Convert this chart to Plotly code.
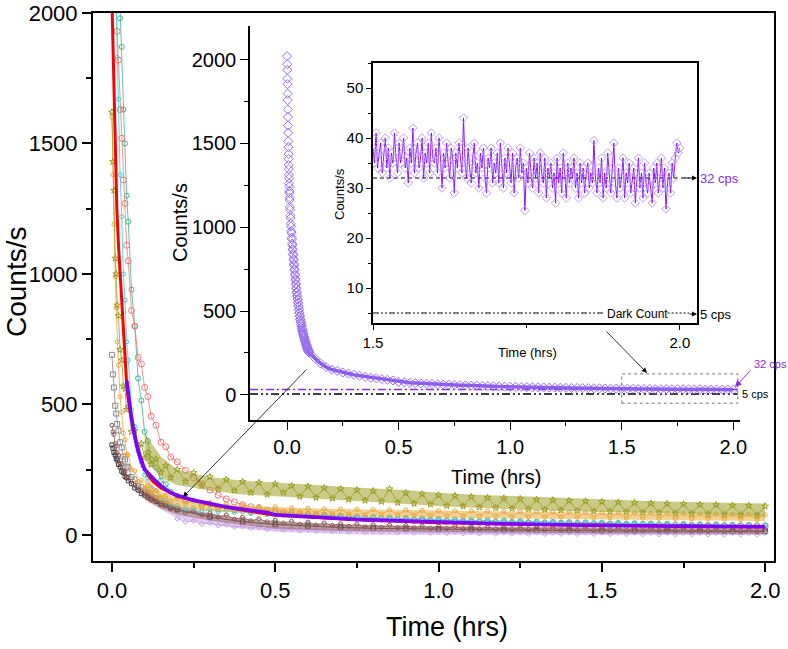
import plotly.graph_objects as go

# ---------------- data ----------------
E_T = [0, 0.003, 0.006, 0.01, 0.013, 0.016, 0.02, 0.025, 0.03, 0.035, 0.04, 0.045, 0.05,
       0.06, 0.07, 0.08, 0.09, 0.1, 0.11, 0.12, 0.135, 0.15, 0.165, 0.18]
L_T = [0.2, 0.225, 0.25, 0.275, 0.3, 0.325, 0.35, 0.375, 0.4, 0.425, 0.45, 0.475, 0.5, 0.525,
       0.55, 0.575, 0.6, 0.625, 0.65, 0.675, 0.7, 0.725, 0.75, 0.775, 0.8, 0.825, 0.85, 0.875,
       0.9, 0.925, 0.95, 0.975, 1.0, 1.025, 1.05, 1.075, 1.1, 1.125, 1.15, 1.175, 1.2, 1.225,
       1.25, 1.275, 1.3, 1.325, 1.35, 1.375, 1.4, 1.425, 1.45, 1.475, 1.5, 1.525, 1.55, 1.575,
       1.6, 1.625, 1.65, 1.675, 1.7, 1.725, 1.75, 1.775, 1.8, 1.825, 1.85, 1.875, 1.9, 1.925,
       1.95, 1.975, 2.0]
LS_T = [0.2, 0.3, 0.4, 0.5, 0.6, 0.7, 0.8, 0.9, 1.0, 1.1, 1.2, 1.3, 1.4, 1.5, 1.6, 1.7, 1.8, 1.9, 2.0]
ENV_T = [0.1, 0.15, 0.2, 0.3, 0.4, 0.5, 0.6, 0.7, 0.8, 0.9, 1.0, 1.1, 1.2, 1.3, 1.4, 1.5, 1.6,
         1.7, 1.8, 1.9, 2.0]
P_EARLY_T = [0, 0.0005, 0.001, 0.0015, 0.002, 0.0025, 0.003, 0.0035, 0.004, 0.0045, 0.005,
             0.0055, 0.006, 0.0065, 0.007, 0.0075, 0.008, 0.0085, 0.009, 0.0095, 0.01, 0.0105,
             0.011, 0.0115, 0.012,
             0.013, 0.014, 0.015, 0.016, 0.017, 0.018, 0.019, 0.02, 0.021, 0.022,
             0.023, 0.024, 0.025, 0.026, 0.027, 0.028, 0.029, 0.03, 0.031, 0.032,
             0.033, 0.034, 0.035, 0.036, 0.037, 0.038, 0.039, 0.04, 0.041, 0.042,
             0.043, 0.044, 0.045, 0.046, 0.047, 0.048, 0.049, 0.05, 0.051, 0.052,
             0.053, 0.054, 0.055, 0.056, 0.057, 0.058, 0.059, 0.06, 0.061, 0.062,
             0.063, 0.064, 0.065, 0.066, 0.067, 0.068, 0.069, 0.07, 0.071, 0.072,
             0.073, 0.074, 0.075, 0.076, 0.077, 0.078, 0.079, 0.08, 0.081, 0.082,
             0.083, 0.084, 0.085, 0.086, 0.087, 0.088, 0.089, 0.09, 0.091, 0.092,
             0.093, 0.094, 0.095, 0.096, 0.097, 0.098, 0.099, 0.1]
P_MID_T = [0.125, 0.15, 0.175]
R_T = [0, 0.005, 0.01, 0.015, 0.02, 0.027, 0.035, 0.045, 0.05, 0.06, 0.07, 0.08, 0.09, 0.1,
       0.11, 0.125, 0.15, 0.2, 0.3, 0.4, 0.5, 0.75, 1.0, 1.25, 1.5, 1.75, 2.0]
I2_T = [1.5, 1.5025, 1.505, 1.5075, 1.51, 1.5125, 1.515, 1.5175, 1.52, 1.5225, 1.525, 1.5275, 1.53, 1.5325, 1.535, 1.5375, 1.54, 1.5425, 1.545, 1.5475,
        1.55, 1.5525, 1.555, 1.5575, 1.56, 1.5625, 1.565, 1.5675, 1.57, 1.5725, 1.575, 1.5775, 1.58, 1.5825, 1.585, 1.5875, 1.59, 1.5925, 1.595, 1.5975,
        1.6, 1.6025, 1.605, 1.6075, 1.61, 1.6125, 1.615, 1.6175, 1.62, 1.6225, 1.625, 1.6275, 1.63, 1.6325, 1.635, 1.6375, 1.64, 1.6425, 1.645, 1.6475,
        1.65, 1.6525, 1.655, 1.6575, 1.66, 1.6625, 1.665, 1.6675, 1.67, 1.6725, 1.675, 1.6775, 1.68, 1.6825, 1.685, 1.6875, 1.69, 1.6925, 1.695, 1.6975,
        1.7, 1.7025, 1.705, 1.7075, 1.71, 1.7125, 1.715, 1.7175, 1.72, 1.7225, 1.725, 1.7275, 1.73, 1.7325, 1.735, 1.7375, 1.74, 1.7425, 1.745, 1.7475,
        1.75, 1.7525, 1.755, 1.7575, 1.76, 1.7625, 1.765, 1.7675, 1.77, 1.7725, 1.775, 1.7775, 1.78, 1.7825, 1.785, 1.7875, 1.79, 1.7925, 1.795, 1.7975,
        1.8, 1.8025, 1.805, 1.8075, 1.81, 1.8125, 1.815, 1.8175, 1.82, 1.8225, 1.825, 1.8275, 1.83, 1.8325, 1.835, 1.8375, 1.84, 1.8425, 1.845, 1.8475,
        1.85, 1.8525, 1.855, 1.8575, 1.86, 1.8625, 1.865, 1.8675, 1.87, 1.8725, 1.875, 1.8775, 1.88, 1.8825, 1.885, 1.8875, 1.89, 1.8925, 1.895, 1.8975,
        1.9, 1.9025, 1.905, 1.9075, 1.91, 1.9125, 1.915, 1.9175, 1.92, 1.9225, 1.925, 1.9275, 1.93, 1.9325, 1.935, 1.9375, 1.94, 1.9425, 1.945, 1.9475,
        1.95, 1.9525, 1.955, 1.9575, 1.96, 1.9625, 1.965, 1.9675, 1.97, 1.9725, 1.975, 1.9775, 1.98, 1.9825, 1.985, 1.9875, 1.99, 1.9925, 1.995, 1.9975,
        2.0]

OLIVE_V = [1620, 1430, 1320, 1060, 1000, 880, 840, 710, 670, 570, 560, 480, 490, 395, 400, 335,
           350, 295, 315, 270, 290, 240, 265, 220,
           250, 205, 238, 188, 222, 176, 212, 170, 204, 162,
           200, 155, 195, 162, 188, 147, 186, 143, 180, 140,
           176, 136, 172, 132, 168, 128, 176, 124, 160, 120,
           156, 117, 152, 112, 150, 110, 146, 106, 143, 104,
           140, 101, 138, 99, 135, 97, 133, 95, 131, 93,
           129, 91, 127, 89, 125, 88, 123, 86, 121, 85,
           119, 83, 118, 82, 116, 80, 115, 79, 113, 77,
           112, 76, 110]
OLIVE_HI = [390, 300, 250, 222, 208, 200, 192, 185, 178, 172, 162, 155, 150, 145, 140, 136, 132,
            128, 125, 122, 120]
OLIVE_LO = [290, 220, 190, 170, 155, 148, 140, 133, 126, 118, 110, 104, 99, 94, 90, 86, 83, 80,
            77, 75, 72]
ORANGE_V = [1600, 1380, 1190, 990, 870, 740, 650, 530, 470, 390, 365, 310, 305, 250, 245, 205,
            210, 180, 188, 165, 170, 145, 150, 128,
            140, 118, 132, 108, 124, 102, 118, 98, 114, 95,
            110, 92, 108, 85, 104, 88, 102, 84, 100, 82,
            99, 80, 98, 78, 97, 79, 96, 77, 95, 76,
            94, 75, 93, 74, 92, 73, 92, 72, 91, 71,
            90, 70, 89, 70, 88, 69, 88, 68, 87, 67,
            86, 66, 85, 66, 84, 65, 84, 64, 83, 63,
            82, 62, 81, 62, 80, 61, 80, 60, 79, 59,
            78, 58, 77]
ORANGE_HI = [215, 165, 140, 122, 112, 106, 102, 99, 97, 95, 93, 91, 89, 87, 86, 84, 82, 80, 79,
             78, 77]
ORANGE_LO = [165, 125, 105, 92, 84, 78, 75, 72, 70, 68, 66, 64, 62, 61, 60, 58, 57, 56, 55, 54, 53]
REDC_V = [2600, 2440, 2320, 2130, 2060, 1930, 1820, 1630, 1520, 1360, 1270, 1110, 1050, 860,
          800, 680, 655, 565, 530, 455, 420, 355, 338, 298,
          280, 248, 218, 196, 172, 152, 138, 126, 116, 108, 101, 95, 90,
          86, 84, 80, 79, 75, 74, 70, 70, 67, 66,
          63, 63, 60, 60, 58, 57, 55, 55, 53, 52,
          51, 50, 49, 48, 47, 47, 46, 45, 44, 44,
          43, 42, 42, 41, 41, 40, 40, 39, 39, 38,
          38, 38, 37, 37, 37, 36, 36, 36, 36, 35,
          35, 35, 35, 34, 34, 34, 34, 34, 33, 33]
TEAL_V = [2900, 2790, 2710, 2540, 2440, 2300, 2170, 1980, 1870, 1630, 1500, 1300, 1200, 940,
          800, 600, 515, 395, 360, 290, 258, 208, 195, 165,
          150, 128, 132, 112, 118, 100, 108, 94, 100, 88,
          92, 82, 88, 78, 84, 75, 80, 72, 77, 70,
          74, 67, 71, 65, 69, 63, 67, 61, 65, 60,
          63, 58, 61, 56, 59, 55, 57, 53, 56, 52,
          54, 50, 53, 49, 51, 48, 50, 47, 49, 46,
          48, 45, 47, 44, 46, 43, 45, 42, 44, 41,
          43, 40, 42, 39, 41, 38, 40, 37, 39, 37,
          38, 36, 37]
CYAN_V = [2700, 2480, 2370, 2130, 2020, 1830, 1670, 1380, 1220, 1000, 900, 740, 670, 480, 415,
          320, 290, 230, 218, 182, 170, 140, 134, 116,
          112, 100, 104, 92, 98, 88, 94, 86, 90, 82,
          86, 78, 82, 76, 80, 73, 77, 71, 75, 69,
          72, 66, 70, 64, 68, 62, 66, 60, 64, 59,
          62, 57, 60, 55, 58, 54, 56, 52, 55, 51,
          53, 49, 52, 48, 50, 47, 49, 46, 48, 45,
          47, 44, 46, 43, 45, 42, 44, 41, 43, 40,
          42, 39, 41, 38, 40, 37, 39, 36, 38, 36,
          37, 35, 36]
BROWN_V = [420, 395, 385, 350, 340, 315, 305, 275, 270, 245, 242, 222, 222, 195, 190, 170, 168,
           150, 150, 133, 132, 114, 113, 100,
           102, 86, 92, 76, 84, 68, 76, 60, 68, 54,
           62, 50, 57, 45, 52, 41, 49, 38, 46, 36,
           43, 33, 41, 31, 39, 29, 37, 28, 36, 27,
           34, 25, 33, 24, 32, 23, 31, 22, 30, 21,
           29, 20, 28, 20, 28, 19, 27, 18, 27, 18,
           26, 17, 26, 17, 25, 16, 25, 16, 24, 15,
           24, 15, 23, 14, 23, 14, 22, 13, 22, 13,
           21, 12, 21]
BROWN_HI = [185, 140, 110, 82, 62, 50, 44, 40, 37, 35, 33, 32, 31, 30, 29, 28, 27, 27, 26, 26, 25]
BROWN_LO = [135, 100, 78, 55, 38, 25, 20, 16, 14, 12, 10, 9, 8, 7, 7, 6, 6, 5, 5, 5, 4]
LAV_V = [62, 50, 54, 42, 46, 36, 40, 30, 34, 26,
         30, 22, 26, 19, 23, 17, 21, 15, 19, 13,
         18, 12, 17, 11, 16, 10, 15, 9, 14, 8,
         13, 8, 12, 7, 12, 6, 11, 6, 11, 5,
         10, 5, 10, 4, 10, 4, 9, 4, 9, 3,
         9, 3, 9, 3, 8, 3, 8, 2, 8, 2,
         8, 2, 8, 2, 7, 2, 7, 1, 7, 1,
         7, 1, 7]
LAV_HI = [135, 100, 82, 60, 44, 31, 26, 22, 20, 18, 16, 15, 14, 13, 13, 12, 12, 11, 11, 11, 10]
LAV_LO = [135, 100, 62, 40, 24, 12, 7, 3, 1, 0, 0, 0, 0, 0, 0, 0, 0, 0, 0, 0, 0]
GREY1_V = [690, 615, 565, 495, 465, 425, 400, 355, 335, 300, 290, 262, 258, 222, 212, 188, 182,
           162, 160, 143, 140, 122, 120, 105,
           98, 70, 52, 42, 35, 30, 26, 24, 22, 20, 19, 18, 17, 16, 16, 15, 15, 14, 14]
GREY2_V = [345, 332, 316, 306, 293, 287, 270, 260, 244, 238, 224, 219, 207, 197, 180, 172, 158,
           152, 145, 137, 128, 120, 112, 105,
           96, 68, 50, 40, 33, 28, 25, 23, 21, 19, 18, 17, 16, 15, 15, 14, 14, 13, 13]
P_V = [2020, 1972, 1938, 1886, 1853, 1797, 1758, 1702, 1657, 1606, 1563, 1512, 1478, 1436, 1408,
       1371, 1347, 1312, 1292, 1261, 1243, 1216, 1203, 1176, 1162,
       1120, 1104, 1070, 1054, 1020, 1004, 976, 964, 938, 928,
       902, 893, 871, 863, 841, 833, 811, 803, 781, 773,
       751, 743, 721, 713, 691, 683, 663, 658, 638, 633,
       613, 608, 591, 588, 571, 568, 551, 548, 531, 528,
       511, 508, 491, 488, 471, 468, 452, 450, 436, 434,
       421, 420, 407, 407, 394, 394, 382, 382, 370, 370,
       358, 358, 347, 347, 337, 337, 327, 327, 318, 318,
       309, 309, 300, 300, 292, 292, 284, 285, 277, 278,
       270, 271, 263, 265, 257, 259, 252, 252,
       218, 188, 166,
       151, 143, 133, 127, 119, 114, 107, 103, 98, 94,
       90, 86, 77, 75, 72, 70, 68, 66, 65, 63,
       62, 60, 59, 58, 57, 55, 55, 53, 52, 51,
       50, 49, 48, 47, 47, 46, 45, 45, 44, 43,
       43, 42, 42, 41, 41, 40, 40, 39, 39, 38,
       37, 37, 36, 36, 36, 35, 35, 35, 34, 34,
       34, 33, 34, 33, 33, 32, 33, 32, 32, 32,
       31, 32, 31]
R_V = [2050, 1750, 1450, 1250, 1110, 960, 790, 580, 520, 440, 375, 325, 285, 255, 230, 205, 180,
       148, 117, 95, 75, 58, 47, 41, 36, 33, 31]
I2_V = [38, 35, 41, 34, 37, 39, 33, 36, 40, 34, 38, 32, 37, 35, 41, 36, 33, 39, 35, 37,
        40, 34, 36, 31, 38, 35, 42, 33, 37, 39, 34, 36, 40, 32, 37, 35, 39, 33, 41, 36,
        35, 38, 33, 40, 36, 30, 37, 34, 39, 35, 32, 38, 36, 29, 37, 34, 39, 36, 33, 44,
        35, 32, 38, 34, 31, 36, 39, 33, 35, 30, 37, 34, 38, 32, 29, 36, 34, 38, 31, 35,
        33, 37, 31, 39, 34, 30, 36, 33, 38, 35, 31, 37, 29, 34, 36, 32, 38, 33, 35, 25.5,
        34, 31, 37, 33, 30, 36, 32, 35, 29, 37, 33, 31, 36, 28, 34, 32, 35, 30, 33, 27,
        36, 31, 34, 29, 37, 33, 28, 35, 31, 34, 32, 36, 30, 33, 28, 35, 31, 34, 29, 33,
        35, 30, 33, 31, 39.5, 32, 29, 34, 31, 36, 28, 33, 30, 37, 32, 29, 34, 39, 31, 28,
        34, 30, 32, 36, 28, 33, 31, 35, 29, 32, 34, 27, 31, 36, 30, 33, 28, 35, 31, 29,
        33, 30, 27, 34, 31, 35, 29, 32, 36, 30, 34, 25.8, 31, 33, 29, 35, 32, 36, 39, 37,
        38]
REF_LEVELS = [32, 5]

# ---------------- figure ----------------
W, H = 788, 649
FONT = "Arial, Liberation Sans, sans-serif"
PURPLE = "#7f00ff"
PTXT = "#8a2be2"


def px(x):
    return x / W


def py(y):
    return 1 - y / H


fig = go.Figure()


def add(xs, ys, color, symbol, size, xa="x", ya="y", lw=0.8, mode="lines+markers"):
    fig.add_trace(go.Scatter(
        x=xs, y=ys, mode=mode, xaxis=xa, yaxis=ya, showlegend=False, hoverinfo="skip",
        marker=dict(symbol=symbol, size=size, color=color, line=dict(width=1, color=color)),
        line=dict(color=color, width=lw)))


def band(hi, lo, rgba):
    fig.add_trace(go.Scatter(
        x=ENV_T + ENV_T[::-1], y=hi + lo[::-1], mode="lines", fill="toself", fillcolor=rgba,
        line=dict(width=0), showlegend=False, hoverinfo="skip"))


T_FULL = E_T + L_T
T_SPARSE = E_T + LS_T
P_T = P_EARLY_T + P_MID_T + L_T
MAIN_P = [(t, v) for t, v in zip(P_T, P_V) if t >= 0.045]
P_LATE = [(t, v) for t, v in zip(P_T, P_V) if t >= 0.09]

add(T_SPARSE, GREY1_V, "#8a8a8a", "square-open", 5)
add(T_SPARSE, GREY2_V, "#3c3c3c", "square-open", 4)
add(T_FULL, TEAL_V, "#3fb58d", "circle-open", 5)
add(T_FULL, REDC_V, "#f07575", "circle-open", 6)
band(LAV_HI, LAV_LO, "rgba(196,154,230,0.5)")
add(L_T, LAV_V, "#c49ae6", "diamond-open", 4)
band(BROWN_HI, BROWN_LO, "rgba(140,86,86,0.55)")
add(T_FULL, BROWN_V, "#8c5656", "circle-open", 4)
add(T_FULL, CYAN_V, "#3ccbe0", "circle-open", 4)
band(ORANGE_HI, ORANGE_LO, "rgba(232,168,56,0.55)")
add(T_FULL, ORANGE_V, "#e8a838", "circle-open", 4)
band(OLIVE_HI, OLIVE_LO, "rgba(160,160,40,0.55)")
add(T_FULL, OLIVE_V, "#9c9c1e", "star-open", 5)
fig.add_trace(go.Scatter(x=R_T, y=R_V, mode="lines", line=dict(color="#ff0000", width=3),
                         showlegend=False, hoverinfo="skip"))
fig.add_trace(go.Scatter(x=[p[0] for p in MAIN_P], y=[p[1] for p in MAIN_P], mode="lines",
                         line=dict(color=PURPLE, width=3.5), showlegend=False, hoverinfo="skip"))

# inset 1
fig.add_trace(go.Scatter(x=[p[0] for p in P_LATE], y=[p[1] for p in P_LATE], mode="lines",
                         xaxis="x2", yaxis="y2", line=dict(color="#8a55f0", width=3.5),
                         showlegend=False, hoverinfo="skip"))
add(P_T, P_V, "#9a6ff0", "diamond-open", 7, xa="x2", ya="y2", mode="markers")
# inset 2
fig.add_trace(go.Scatter(
    x=I2_T, y=I2_V, mode="lines+markers", xaxis="x3", yaxis="y3", showlegend=False,
    hoverinfo="skip", line=dict(color=PURPLE, width=0.9),
    marker=dict(symbol="diamond-open", size=6.5, color="#c39cf5", line=dict(width=1, color="#c39cf5"))))

axis_common = dict(showline=True, linecolor="black", ticks="outside", tickcolor="black",
                   showgrid=False, zeroline=False, color="black", automargin=False)

fig.update_layout(
    width=W, height=H, margin=dict(l=0, r=0, t=0, b=0, pad=0), autosize=False,
    paper_bgcolor="white", plot_bgcolor="white", showlegend=False,
    font=dict(family=FONT, color="black"),
    xaxis=dict(domain=[px(93), px(774)], range=[-0.058, 2.027], anchor="y", mirror=True,
               linewidth=2, ticklen=9, tickwidth=1.5, dtick=0.5, tick0=0, tickformat=".1f",
               tickfont=dict(size=22, family=FONT),
               minor=dict(ticks="outside", ticklen=5, tickwidth=1.5, dtick=0.25, tick0=0,
                          tickcolor="black", showgrid=False),
               **axis_common),
    yaxis=dict(domain=[py(561), py(13)], range=[-100, 2000], anchor="x", mirror=True,
               linewidth=2, ticklen=9, tickwidth=1.5, dtick=500, tick0=0,
               tickfont=dict(size=22, family=FONT),
               minor=dict(ticks="outside", ticklen=5, tickwidth=1.5, dtick=250, tick0=0,
                          tickcolor="black", showgrid=False),
               **axis_common),
    xaxis2=dict(domain=[px(250), px(740)], range=[-0.166, 2.03], anchor="y2",
                linewidth=1.5, ticklen=8, tickwidth=1.2, dtick=0.5, tick0=0, tickformat=".1f",
                tickfont=dict(size=20, family=FONT),
                minor=dict(ticks="outside", ticklen=4, tickwidth=1.2, dtick=0.25, tick0=0,
                           tickcolor="black", showgrid=False),
                **axis_common),
    yaxis2=dict(domain=[py(420), py(26)], range=[-150, 2200], anchor="x2",
                linewidth=1.5, ticklen=8, tickwidth=1.2, dtick=500, tick0=0,
                tickfont=dict(size=20, family=FONT),
                minor=dict(ticks="outside", ticklen=4, tickwidth=1.2, dtick=250, tick0=0,
                           tickcolor="black", showgrid=False),
                **axis_common),
    xaxis3=dict(domain=[px(373), px(697)], range=[1.5, 2.028], anchor="y3", mirror=True,
                linewidth=1.5, ticklen=5, tickwidth=1, dtick=0.5, tick0=1.5, tickformat=".1f",
                tickfont=dict(size=15, family=FONT),
                minor=dict(ticks="outside", ticklen=3, tickwidth=1, dtick=0.25, tick0=1.5,
                           tickcolor="black", showgrid=False),
                **axis_common),
    yaxis3=dict(domain=[py(323), py(63)], range=[3, 55], anchor="x3", mirror=True,
                linewidth=1.5, ticklen=5, tickwidth=1, dtick=10, tick0=0,
                tickfont=dict(size=15, family=FONT),
                minor=dict(ticks="outside", ticklen=3, tickwidth=1, dtick=5, tick0=0,
                           tickcolor="black", showgrid=False),
                **axis_common),
)

shapes = [
    dict(type="line", xref="x2", yref="y2", x0=-0.166, x1=2.02, y0=REF_LEVELS[0], y1=REF_LEVELS[0],
         line=dict(color=PTXT, width=1.5, dash="8px,3px,2px,3px"), layer="below"),
    dict(type="line", xref="x2", yref="y2", x0=-0.166, x1=2.02, y0=REF_LEVELS[1], y1=REF_LEVELS[1],
         line=dict(color="black", width=1.5, dash="8px,3px,2px,3px,2px,3px"), layer="below"),
    dict(type="rect", xref="x2", yref="y2", x0=1.5, x1=2.02, y0=-50, y1=125,
         line=dict(color="#777777", width=1, dash="dot"), layer="above"),
    dict(type="line", xref="x3", yref="y3", x0=1.5, x1=2.015, y0=REF_LEVELS[0], y1=REF_LEVELS[0],
         line=dict(color="black", width=1, dash="4px,3px"), layer="below"),
    dict(type="line", xref="x3", yref="y3", x0=1.5, x1=1.876, y0=REF_LEVELS[1], y1=REF_LEVELS[1],
         line=dict(color="black", width=1, dash="6px,2px,2px,2px,2px,2px"), layer="above"),
    dict(type="line", xref="x3", yref="y3", x0=1.98, x1=2.015, y0=REF_LEVELS[1], y1=REF_LEVELS[1],
         line=dict(color="black", width=1, dash="2px,2px"), layer="above"),
]
fig.update_layout(shapes=shapes)


def txt(text, x, y, size, color="black", angle=0, xanchor="center"):
    return dict(text=text, x=px(x), y=py(y), xref="paper", yref="paper", showarrow=False,
                textangle=angle, xanchor=xanchor, yanchor="middle",
                font=dict(size=size, color=color, family=FONT))


def arrow(x, y, ax, ay, color="black", width=0.8, size=1.3):
    return dict(text="", x=px(x), y=py(y), xref="paper", yref="paper", showarrow=True,
                ax=ax, ay=ay, arrowhead=2, arrowsize=size, arrowwidth=width, arrowcolor=color)


annotations = [
    txt("Counts/s", 16, 282, 28, angle=-90),
    txt("Time (hrs)", 447, 627, 27),
    txt("Counts/s", 180, 223, 20, angle=-90),
    txt("Time (hrs)", 496, 477, 20),
    txt("Counts/s", 340, 194, 13, angle=-90),
    txt("Time (hrs)", 527, 352, 13),
    txt("Dark Count", 637, 314, 12),
    txt("5 cps", 698, 314, 13, xanchor="left"),
    txt("32 cps", 698, 178, 13, color=PTXT, xanchor="left"),
    txt("32 cps", 752, 364, 11, color=PTXT, xanchor="left"),
    txt("5 cps", 740, 394, 11, xanchor="left"),
    arrow(183, 497, 125, -129),
    arrow(647, 373, -42, -43),
    arrow(735, 387, 17, -18, color=PTXT, width=1),
    arrow(697, 178, -14, 0, width=1, size=1),
    arrow(697, 314, -9, 0, width=1, size=1),
]
fig.update_layout(annotations=annotations)

fig.write_html("out.html", config={"displayModeBar": False, "responsive": False},
               post_script="document.body.style.margin='0';document.body.style.overflow='hidden';")
